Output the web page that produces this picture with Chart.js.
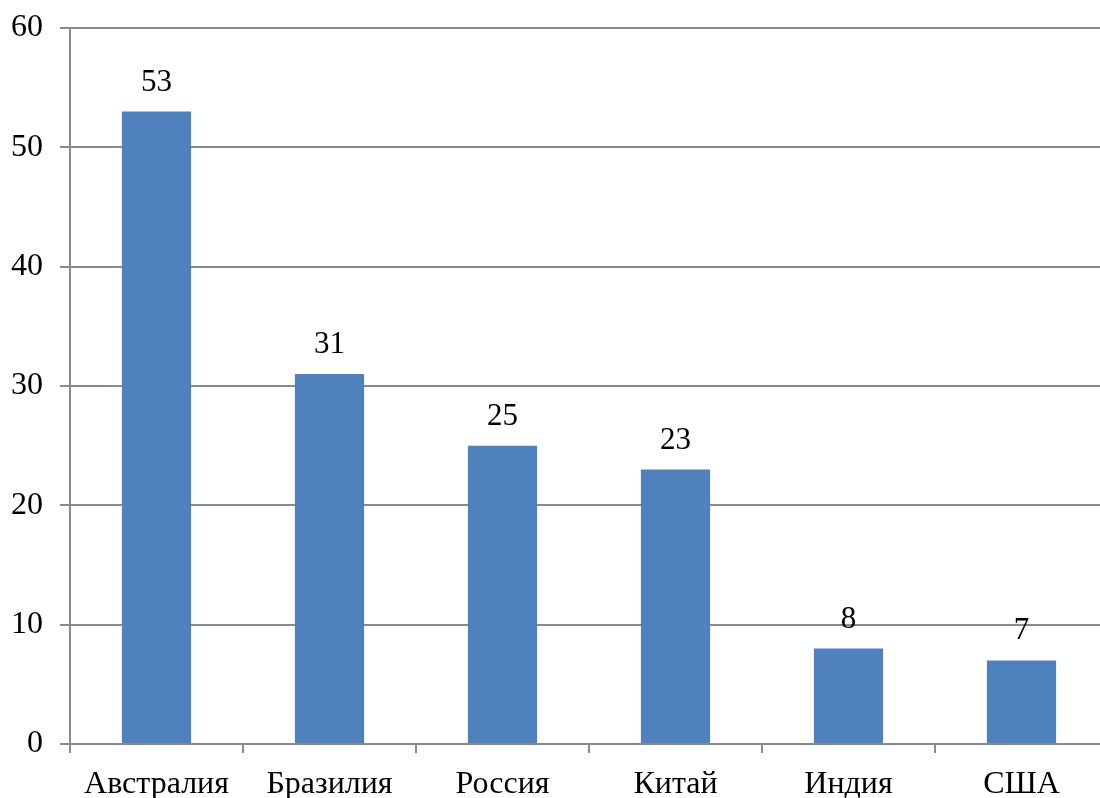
<!DOCTYPE html>
<html>
<head>
<meta charset="utf-8">
<script src="https://cdn.jsdelivr.net/npm/chart.js@4.4.0/dist/chart.umd.min.js"></script>
<style>
html,body{margin:0;padding:0;background:#fff;overflow:hidden;}
#wrap{width:1110px;height:798px;position:relative;}
</style>
</head>
<body>
<div id="wrap"><canvas id="c"></canvas></div>
<script>
const categories = ['Австралия','Бразилия','Россия','Китай','Индия','США'];
const values = [53, 31, 25, 23, 8, 7];
const yTicks = [0, 10, 20, 30, 40, 50, 60];

const FONT = '"Liberation Serif", "Times New Roman", serif';
const GRID = '#8a8a8a';

const valueLabels = {
  id: 'valueLabels',
  afterDatasetsDraw(chart) {
    const ctx = chart.ctx;
    const meta = chart.getDatasetMeta(0);
    ctx.save();
    ctx.font = '31px ' + FONT;
    ctx.fillStyle = '#000';
    ctx.textAlign = 'center';
    ctx.textBaseline = 'alphabetic';
    meta.data.forEach((bar, i) => {
      ctx.fillText(String(values[i]), bar.x, bar.y - 21);
    });
    ctx.restore();
  }
};

new Chart(document.getElementById('c'), {
  type: 'bar',
  data: {
    labels: categories,
    datasets: [{
      data: values,
      backgroundColor: '#4F81BD',
      borderWidth: 0,
      barPercentage: 0.4,
      categoryPercentage: 1.0
    }]
  },
  options: {
    responsive: true,
    maintainAspectRatio: false,
    animation: false,
    layout: { padding: { top: 28, right: 2, left: 0, bottom: 0 } },
    plugins: { legend: { display: false }, tooltip: { enabled: false } },
    scales: {
      x: {
        offset: true,
        grid: { drawOnChartArea: false, drawTicks: true, tickLength: 9, color: GRID, lineWidth: 2, offset: true },
        border: { display: true, color: GRID, width: 2 },
        ticks: { color: '#000', font: { family: FONT, size: 32 }, padding: 12, maxRotation: 0, autoSkip: false },
        afterFit(scale) { scale.height = 54; scale.paddingLeft = 0; scale.paddingRight = 0; }
      },
      y: {
        min: 0, max: 60,
        afterBuildTicks(scale) { scale.ticks = yTicks.map(v => ({ value: v })); },
        grid: { color: GRID, lineWidth: 2, tickLength: 10, drawTicks: true },
        border: { display: true, color: GRID, width: 2 },
        ticks: { color: '#000', font: { family: FONT, size: 32 }, padding: 17 },
        afterFit(scale) { scale.width = 70; scale.paddingTop = 0; scale.paddingBottom = 0; }
      }
    }
  },
  plugins: [valueLabels]
});
</script>
</body>
</html>
